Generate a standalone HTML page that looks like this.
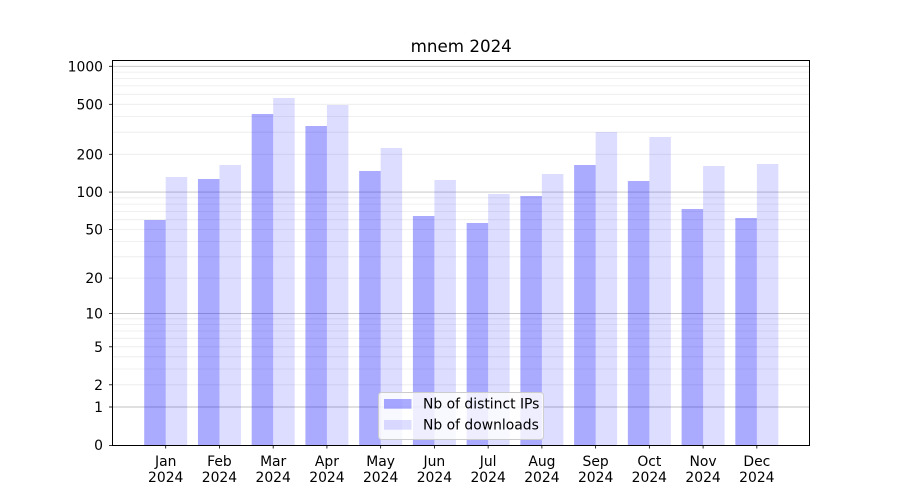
<!DOCTYPE html>
<html>
<head>
<meta charset="utf-8">
<style>
html,body{margin:0;padding:0;background:#fff;}
svg{display:block;}
text{font-family:"DejaVu Sans","Liberation Sans",sans-serif;fill:#000;}
</style>
</head>
<body>
<svg width="900" height="500" viewBox="0 0 900 500" xmlns="http://www.w3.org/2000/svg">
<rect x="0" y="0" width="900" height="500" fill="#fff"/>
<!-- minor grid -->
<g stroke="#ebebeb" stroke-width="0.8">
<line x1="112.5" x2="810" y1="384.8" y2="384.8"/>
<line x1="112.5" x2="810" y1="369.0" y2="369.0"/>
<line x1="112.5" x2="810" y1="356.8" y2="356.8"/>
<line x1="112.5" x2="810" y1="346.8" y2="346.8"/>
<line x1="112.5" x2="810" y1="338.3" y2="338.3"/>
<line x1="112.5" x2="810" y1="331.0" y2="331.0"/>
<line x1="112.5" x2="810" y1="324.6" y2="324.6"/>
<line x1="112.5" x2="810" y1="318.8" y2="318.8"/>
<line x1="112.5" x2="810" y1="278.1" y2="278.1"/>
<line x1="112.5" x2="810" y1="256.8" y2="256.8"/>
<line x1="112.5" x2="810" y1="241.5" y2="241.5"/>
<line x1="112.5" x2="810" y1="229.5" y2="229.5"/>
<line x1="112.5" x2="810" y1="219.7" y2="219.7"/>
<line x1="112.5" x2="810" y1="211.4" y2="211.4"/>
<line x1="112.5" x2="810" y1="204.1" y2="204.1"/>
<line x1="112.5" x2="810" y1="197.8" y2="197.8"/>
<line x1="112.5" x2="810" y1="154.3" y2="154.3"/>
<line x1="112.5" x2="810" y1="132.2" y2="132.2"/>
<line x1="112.5" x2="810" y1="116.5" y2="116.5"/>
<line x1="112.5" x2="810" y1="104.3" y2="104.3"/>
<line x1="112.5" x2="810" y1="94.3" y2="94.3"/>
<line x1="112.5" x2="810" y1="85.9" y2="85.9"/>
<line x1="112.5" x2="810" y1="78.6" y2="78.6"/>
<line x1="112.5" x2="810" y1="72.1" y2="72.1"/>
</g>
<!-- major grid -->
<g stroke="#c2c2c2" stroke-width="0.9">
<line x1="112.5" x2="810" y1="407.0" y2="407.0"/>
<line x1="112.5" x2="810" y1="313.6" y2="313.6"/>
<line x1="112.5" x2="810" y1="192.1" y2="192.1"/>
<line x1="112.5" x2="810" y1="66.3" y2="66.3"/>
</g>
<!-- bars -->
<g fill="rgba(0,0,255,0.333)">
<rect x="144.2" y="220" width="21.5" height="225"/>
<rect x="197.94" y="179" width="21.5" height="266"/>
<rect x="251.68" y="114" width="21.5" height="331"/>
<rect x="305.42" y="126" width="21.5" height="319"/>
<rect x="359.16" y="171" width="21.5" height="274"/>
<rect x="412.9" y="216" width="21.5" height="229"/>
<rect x="466.64" y="223" width="21.5" height="222"/>
<rect x="520.38" y="196" width="21.5" height="249"/>
<rect x="574.12" y="165" width="21.5" height="280"/>
<rect x="627.86" y="181" width="21.5" height="264"/>
<rect x="681.6" y="209" width="21.5" height="236"/>
<rect x="735.34" y="218" width="21.5" height="227"/>
</g>
<g fill="rgba(0,0,255,0.133)">
<rect x="165.7" y="177" width="21.5" height="268"/>
<rect x="219.44" y="165" width="21.5" height="280"/>
<rect x="273.18" y="98" width="21.5" height="347"/>
<rect x="326.92" y="105" width="21.5" height="340"/>
<rect x="380.66" y="148" width="21.5" height="297"/>
<rect x="434.4" y="180" width="21.5" height="265"/>
<rect x="488.14" y="194" width="21.5" height="251"/>
<rect x="541.88" y="174" width="21.5" height="271"/>
<rect x="595.62" y="132" width="21.5" height="313"/>
<rect x="649.36" y="137" width="21.5" height="308"/>
<rect x="703.1" y="166" width="21.5" height="279"/>
<rect x="756.84" y="164" width="21.5" height="281"/>
</g>
<!-- spines -->
<rect x="112.5" y="60.5" width="697" height="385" fill="none" stroke="#000" stroke-width="1"/>
<!-- y ticks -->
<g stroke="#000" stroke-width="0.8">
<line x1="109" x2="112.5" y1="445.5" y2="445.5"/>
<line x1="109" x2="112.5" y1="407.0" y2="407.0"/>
<line x1="109" x2="112.5" y1="384.8" y2="384.8"/>
<line x1="109" x2="112.5" y1="346.8" y2="346.8"/>
<line x1="109" x2="112.5" y1="313.6" y2="313.6"/>
<line x1="109" x2="112.5" y1="278.1" y2="278.1"/>
<line x1="109" x2="112.5" y1="229.5" y2="229.5"/>
<line x1="109" x2="112.5" y1="192.1" y2="192.1"/>
<line x1="109" x2="112.5" y1="154.3" y2="154.3"/>
<line x1="109" x2="112.5" y1="104.3" y2="104.3"/>
<line x1="109" x2="112.5" y1="66.3" y2="66.3"/>
</g>
<g font-size="13.9" text-anchor="end">
<text x="103" y="450">0</text>
<text x="103" y="412">1</text>
<text x="103" y="389.8">2</text>
<text x="103" y="351.8">5</text>
<text x="103" y="318.6">10</text>
<text x="103" y="283.1">20</text>
<text x="103" y="234.5">50</text>
<text x="103" y="197.1">100</text>
<text x="103" y="159.3">200</text>
<text x="103" y="109.3">500</text>
<text x="103" y="71.3">1000</text>
</g>
<!-- x ticks -->
<g stroke="#000" stroke-width="0.8">
<line x1="165.7" x2="165.7" y1="445" y2="448.5"/>
<line x1="219.44" x2="219.44" y1="445" y2="448.5"/>
<line x1="273.18" x2="273.18" y1="445" y2="448.5"/>
<line x1="326.92" x2="326.92" y1="445" y2="448.5"/>
<line x1="380.66" x2="380.66" y1="445" y2="448.5"/>
<line x1="434.4" x2="434.4" y1="445" y2="448.5"/>
<line x1="488.14" x2="488.14" y1="445" y2="448.5"/>
<line x1="541.88" x2="541.88" y1="445" y2="448.5"/>
<line x1="595.62" x2="595.62" y1="445" y2="448.5"/>
<line x1="649.36" x2="649.36" y1="445" y2="448.5"/>
<line x1="703.1" x2="703.1" y1="445" y2="448.5"/>
<line x1="756.84" x2="756.84" y1="445" y2="448.5"/>
</g>
<g font-size="13.9" text-anchor="middle">
<text x="165.7" y="466">Jan</text><text x="165.7" y="482">2024</text>
<text x="219.44" y="466">Feb</text><text x="219.44" y="482">2024</text>
<text x="273.18" y="466">Mar</text><text x="273.18" y="482">2024</text>
<text x="326.92" y="466">Apr</text><text x="326.92" y="482">2024</text>
<text x="380.66" y="466">May</text><text x="380.66" y="482">2024</text>
<text x="434.4" y="466">Jun</text><text x="434.4" y="482">2024</text>
<text x="488.14" y="466">Jul</text><text x="488.14" y="482">2024</text>
<text x="541.88" y="466">Aug</text><text x="541.88" y="482">2024</text>
<text x="595.62" y="466">Sep</text><text x="595.62" y="482">2024</text>
<text x="649.36" y="466">Oct</text><text x="649.36" y="482">2024</text>
<text x="703.1" y="466">Nov</text><text x="703.1" y="482">2024</text>
<text x="756.84" y="466">Dec</text><text x="756.84" y="482">2024</text>
</g>
<!-- title -->
<text x="461.25" y="52" font-size="16.7" text-anchor="middle">mnem 2024</text>
<!-- legend -->
<rect x="378.5" y="392.5" width="165" height="47" rx="3" ry="3" fill="rgba(255,255,255,0.8)" stroke="#cccccc" stroke-width="0.9"/>
<rect x="384" y="399" width="27.5" height="9.7" fill="rgba(0,0,255,0.333)"/>
<rect x="384" y="420" width="27.5" height="9.7" fill="rgba(0,0,255,0.133)"/>
<text x="423" y="408.5" font-size="13.9">Nb of distinct IPs</text>
<text x="423" y="429.3" font-size="13.9">Nb of downloads</text>
</svg>
</body>
</html>
